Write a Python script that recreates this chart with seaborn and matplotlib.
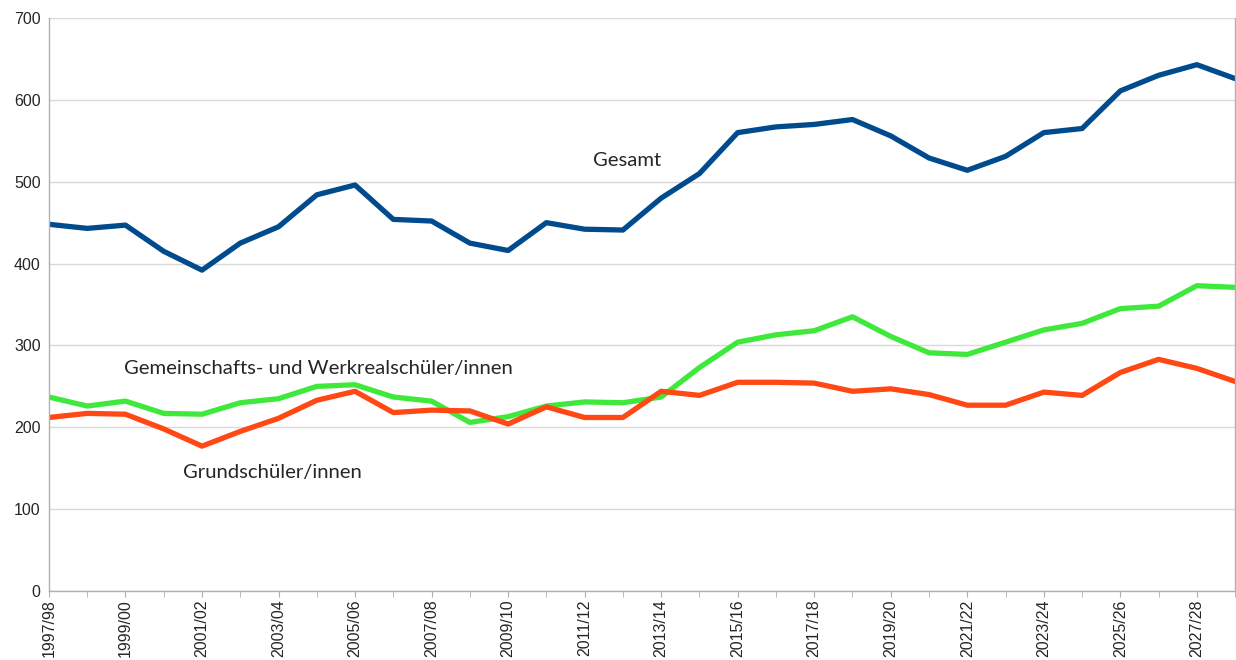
import numpy as np
import pandas as pd
import seaborn as sns
import matplotlib.pyplot as plt

# Schuljahre 1997/98 .. 2028/29
jahre = [f"{y}/{str(y + 1)[-2:]}" for y in range(1997, 2029)]

gesamt = [448, 443, 447, 415, 392, 425, 445, 484, 496, 454, 452, 425, 416, 450, 442, 441,
          480, 510, 560, 567, 570, 576, 556, 529, 514, 531, 560, 565, 611, 630, 643, 626]
gemeinschaft = [237, 226, 232, 217, 216, 230, 235, 250, 252, 237, 232, 206, 213, 226, 231, 230,
                237, 273, 304, 313, 318, 335, 311, 291, 289, 304, 319, 327, 345, 348, 373, 371]
grund = [212, 217, 216, 198, 177, 195, 211, 233, 244, 218, 221, 220, 204, 225, 212, 212,
         244, 239, 255, 255, 254, 244, 247, 240, 227, 227, 243, 239, 267, 283, 272, 256]

serien = ["Gesamt", "Gemeinschafts- und Werkrealschüler/innen", "Grundschüler/innen"]
farben = {serien[0]: "#004b8d", serien[1]: "#3fe93c", serien[2]: "#ff4814"}

df = pd.DataFrame({
    "x": list(range(len(jahre))) * 3,
    "wert": gesamt + gemeinschaft + grund,
    "serie": [serien[0]] * len(jahre) + [serien[1]] * len(jahre) + [serien[2]] * len(jahre),
})

sns.set_style("white")
plt.rcParams['font.family'] = ['Liberation Sans', 'DejaVu Sans']

fig = plt.figure(figsize=(12.36, 6.6), dpi=100)
ax = fig.add_axes([0.0396, 0.1045, 0.9597, 0.8682])

sns.lineplot(data=df, x="x", y="wert", hue="serie", palette=farben, linewidth=3.8,
             legend=False, ax=ax)

ax.set_xlim(0, len(jahre) - 1)
ax.set_ylim(0, 700)
ax.set_yticks(range(0, 701, 100))
ax.set_xticks(range(0, len(jahre), 2))
ax.set_xticklabels(jahre[::2], rotation=90, fontsize=11.5)
ax.set_xticks(range(len(jahre)), minor=True)
ax.tick_params(axis="y", labelsize=11.5, length=0, pad=6)
ax.tick_params(axis="x", which="both", length=4, color="#b0b0b0", pad=2, bottom=True)
ax.set_xlabel("")
ax.set_ylabel("")
ax.grid(axis="y", color="#d9d9d9", linewidth=1)
ax.set_axisbelow(True)

for s in ["left", "bottom", "right"]:
    ax.spines[s].set_color("#b0b0b0")
    ax.spines[s].set_linewidth(1)
ax.spines["top"].set_visible(False)

# Beschriftungen direkt an den Linien
schrift = ["Lato", "DejaVu Sans"]
ax.text(14.23, 526, "Gesamt", fontsize=14.6, family=schrift, va="center")
ax.text(1.95, 272, "Gemeinschafts- und Werkrealschüler/innen", fontsize=14.6,
        family=schrift, va="center")
ax.text(3.5, 145, "Grundschüler/innen", fontsize=14.6, family=schrift, va="center")

fig.savefig("out.png", dpi=100)
